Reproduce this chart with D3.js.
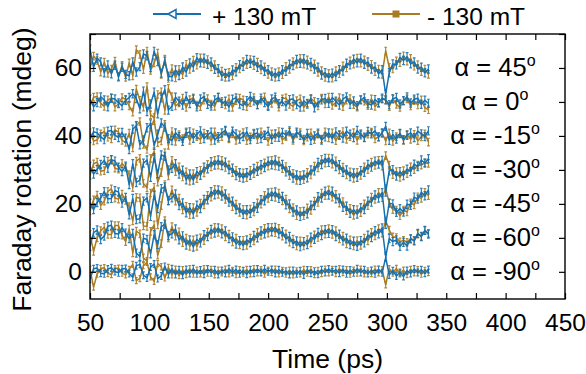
<!DOCTYPE html>
<html>
<head>
<meta charset="utf-8">
<script src="https://cdn.jsdelivr.net/npm/d3@7"></script>
<style>
  body { margin: 0; background: #fff; }
</style>
</head>
<body>
<svg id="chart" width="586" height="374"></svg>
<script>
// time axis of every trace (ps)
const times = [50,53,56,59,62,65,68,71,74,77,80,83,86,89,92,95,98,101,104,107,110,113,116,119,
  122,125,128,131,134,137,140,143,146,149,152,155,158,161,164,167,170,173,176,179,182,185,188,191,
  194,197,200,203,206,209,212,215,218,221,224,227,230,233,236,239,242,245,248,251,254,257,260,263,
  266,269,272,275,278,281,284,287,290,293,296,299,302,305,308,311,314,317,320,323,326,329,332,335];

// vertical shift of each trace (mdeg) and its label
const offsets = [60, 50, 40, 30, 20, 10, 0];
const angles = ['45', '0', '-15', '-30', '-45', '-60', '-90'];
const errPlus = [1.2, 1.2, 1.2, 1.2, 1.2, 1.2, 1.0];
const errMinus = [1.1, 1.1, 1.1, 1.1, 1.1, 1.1, 0.9];

const xTickValues = [50, 75, 100, 125, 150, 175, 200, 225, 250, 275, 300, 325, 350, 375, 400, 425, 450];
const xTickLabels = [50, 100, 150, 200, 250, 300, 350, 400, 450];
const yTickValues = [0, 10, 20, 30, 40, 50, 60, 70];
const yTickLabels = [0, 20, 40, 60];

// Faraday rotation relative to the trace offset, + 130 mT
const plus45 = [5.5,0.2,2.9,1.8,-1.4,0.9,-1.7,0.8,-2.6,0.2,-1.9,-2.3,
  1.8,-1.2,0.4,4.1,3.6,0.1,4.9,1.9,-1.5,2.0,-2.4,
  -2.6,-0.6,-2.2,0.3,-1.2,1.5,0.3,3.0,
  1.5,2.9,1.1,1.8,-0.4,-0.2,-2.4,-1.6,-2.6,-0.6,-1.1,1.0,
  0.5,2.5,1.4,2.2,0.2,0.9,-1.0,-0.5,-2.4,-1.5,-2.5,-0.5,
  -1.0,1.1,0.7,2.5,1.4,2.7,0.9,1.6,-0.3,0.2,-2.1,-1.4,
  -2.9,-1.5,-2.5,-0.5,-0.9,1.4,0.9,2.6,1.5,2.9,1.1,1.8,
  -0.3,0.3,-1.7,-0.5,-7.7,-1.4,1.2,0.9,3.1,2.2,3.3,1.2,1.8,-0.3,0.2,-1.4,-0.3];
const plus0 = [0.8,-1.4,-0.2,1.5,0.6,-1.4,1.1,0.9,-0.3,-1.1,0.5,1.3,
  2.4,1.0,-2.0,3.2,-2.8,-0.6,2.9,-3.5,1.2,3.6,-2.4,
  -1.3,1.4,0.2,-0.9,1.6,-0.5,0.8,-1.4,
  0.9,1.5,-0.7,-1.2,0.6,1.3,-0.4,0.2,-1.5,0.8,1.2,-0.6,
  -1.1,0.4,1.6,0.3,-0.8,1.1,-0.2,-1.3,0.9,1.4,-0.5,0.1,
  -1.2,0.7,0.9,-0.8,-1.5,0.3,-0.6,0.8,-1.7,-0.2,0.6,1.0,
  -0.4,1.3,0.2,-0.9,0.9,1.5,-0.7,0.3,-1.1,0.6,1.2,-0.5,
  -0.9,0.7,-0.2,1.1,0.6,-0.8,0.9,1.3,-0.6,0.4,1.5,-0.3,0.8,1.1,-0.7,0.5,-0.4];
const plus15 = [-0.8,1.2,0.9,-0.3,-1.1,1.4,1.6,0.2,-0.5,1.0,-0.7,-4.0,
  2.0,3.0,-2.6,-1.2,2.4,3.5,-2.8,0.5,3.8,2.6,-0.8,
  -1.4,0.9,-0.2,-1.6,0.8,1.2,-0.7,0.4,
  1.5,-0.8,0.3,1.1,-1.2,-0.2,0.9,1.6,-0.4,1.4,0.6,-0.9,
  -0.2,1.2,-1.1,0.5,0.9,-0.8,0.2,1.3,-1.0,0.6,-0.4,1.0,
  0.3,1.5,-0.6,1.1,0.2,-1.0,0.7,-1.3,0.0,0.8,-1.2,-0.3,
  0.9,-0.8,1.2,0.2,-0.6,1.4,0.5,-0.5,1.6,0.3,-0.4,1.3,
  0.6,1.5,-0.3,0.9,2.8,-1.3,0.4,-0.9,0.7,-1.1,0.2,0.9,-0.5,1.4,0.6,-0.2,1.5];
const plus30 = [1.0,-1.2,0.1,1.6,2.8,0.5,3.0,2.6,0.8,-0.5,1.1,-4.3,
  1.8,-3.7,-3.0,2.0,2.9,-2.2,3.6,-1.1,4.4,4.0,0.0,
  0.5,1.8,-1.2,-0.1,-2.9,-1.2,-3.0,-0.5,
  -1.6,0.8,0.3,2.4,1.4,2.9,1.3,2.3,0.1,0.5,-1.7,-0.8,
  -2.4,-0.8,-1.6,0.4,-0.4,1.5,0.7,2.6,1.5,2.9,1.1,1.6,
  -0.6,-0.2,-2.4,-1.5,-3.1,-1.5,-2.3,0.0,-0.3,2.2,1.6,3.4,
  2.2,3.2,1.0,1.5,-0.7,0.0,-2.0,-0.9,-2.2,-0.2,-0.7,1.6,
  0.8,2.6,1.7,2.8,-6.5,-0.3,0.1,-1.8,-0.5,-1.7,0.2,-0.5,1.7,1.0,2.9,2.0,3.3];
const plus45n = [0.2,-1.7,0.4,1.8,3.6,1.5,1.6,3.9,3.5,0.2,1.9,-3.2,
  1.6,-4.6,-4.4,0.8,1.8,-3.7,2.5,-1.4,4.5,5.0,1.0,
  1.8,2.9,-0.5,0.3,-2.6,-1.1,-3.0,-0.4,
  -1.4,1.3,1.2,3.6,2.7,4.1,2.3,2.9,0.5,0.8,-1.7,-1.2,
  -3.1,-1.7,-2.8,-0.8,-1.3,1.2,0.9,3.2,2.2,3.5,1.6,2.2,
  -0.3,0.0,-2.4,-1.8,-3.7,-2.2,-2.9,-0.4,-0.5,2.1,1.7,3.7,
  2.6,3.7,1.5,1.7,-1.0,-0.7,-2.8,-1.7,-3.0,-1.1,-1.7,0.8,
  0.5,2.6,1.7,3.3,-6.0,0.2,0.0,-2.5,-1.4,-2.4,-0.1,-0.4,2.0,1.4,3.4,2.4,4.1];
const plus60 = [-2.5,1.5,2.3,-0.5,0.5,3.4,3.7,1.3,1.1,3.0,1.4,-0.2,
  1.3,-4.5,-5.5,-0.1,-0.5,-4.7,0.9,-2.0,3.3,4.0,0.7,
  1.2,2.6,-0.6,0.6,-2.1,-0.6,-2.7,-0.4,
  -1.5,0.9,0.4,2.5,1.4,2.9,1.2,2.0,-0.2,0.3,-1.8,-0.8,
  -2.3,-0.6,-1.4,0.7,0.0,2.0,1.2,3.0,1.8,3.1,1.2,1.8,
  -0.3,0.4,-1.7,-0.9,-2.6,-1.1,-2.0,0.2,-0.4,1.6,0.7,2.4,
  1.3,2.4,0.4,1.1,-0.9,-0.1,-2.0,-1.0,-2.5,-0.8,-1.5,0.8,
  0.1,2.1,1.2,2.9,-5.5,-0.2,-1.1,-0.6,-2.5,-1.3,-2.4,-0.3,-0.9,1.3,0.4,2.2,1.1];
const plus90 = [-2.2,0.9,1.1,-0.4,-0.6,0.8,1.2,0.1,-0.3,0.9,1.0,-0.5,
  -1.6,1.8,2.2,-1.0,-1.8,1.4,2.3,-2.0,-1.2,1.6,-0.8,
  0.9,-0.8,0.6,-1.0,0.7,-0.5,0.9,-0.6,
  0.5,-0.7,0.8,-0.3,0.6,-0.8,0.4,-0.5,0.9,-0.2,0.7,-0.6,
  0.3,-0.7,0.6,-0.4,0.8,-0.2,0.9,0.0,0.7,-0.5,0.6,-0.3,
  0.2,-0.8,0.4,-0.6,0.3,-0.9,0.5,-0.4,0.2,-0.7,0.6,-0.2,
  0.8,0.0,0.6,-0.4,0.7,-0.6,0.5,-0.3,0.9,-0.2,0.6,-0.5,
  0.4,-0.6,0.7,-0.3,4.2,-0.9,0.3,-1.2,-0.2,-1.4,0.4,-0.5,0.8,-0.2,0.6,-0.4,0.7];

// Faraday rotation relative to the trace offset, - 130 mT
const minus45 = [0.0,3.5,2.2,-1.2,1.7,-1.6,-0.3,2.0,-2.5,0.8,-2.8,1.5,
  -2.3,5.4,4.0,-0.5,5.0,-0.7,1.5,4.4,-1.9,2.6,-3.1,
  -0.2,-2.9,-0.4,-2.0,1.1,-0.4,2.3,0.8,
  3.0,1.3,2.5,0.3,1.0,-1.4,-0.9,-2.8,-1.3,-2.3,0.2,-0.3,
  1.9,1.0,2.5,0.7,1.7,-0.6,0.3,-1.9,-1.1,-2.8,-1.1,-2.0,
  0.5,-0.4,1.9,1.1,2.8,1.1,2.4,0.3,1.2,-1.3,-0.8,-2.8,
  -1.6,-3.0,-0.8,-1.7,0.6,0.0,2.1,1.1,2.9,1.4,2.4,0.4,
  1.1,-1.1,-0.3,-1.9,5.0,0.2,-0.3,2.1,1.6,3.6,2.0,2.8,0.5,1.0,-1.1,-0.3,-1.9];
const minus0 = [-1.0,1.4,1.6,-0.4,-1.3,0.6,1.1,-1.5,-0.6,1.3,0.8,-1.2,
  -3.0,3.8,0.5,-1.5,4.5,-3.8,-4.6,2.2,3.0,-2.5,4.0,
  1.6,-1.2,-0.3,1.1,-1.6,0.7,1.2,-0.9,
  -1.4,0.5,1.0,-0.6,-1.3,1.4,0.2,-0.9,0.9,-1.6,0.4,1.1,
  0.6,-1.4,-0.2,1.3,-0.9,0.5,1.5,-1.1,-0.4,0.8,-1.5,0.9,
  1.2,-0.7,-1.3,0.4,0.9,-1.6,-0.3,1.0,0.2,-1.2,1.1,-0.6,
  1.4,-1.0,-0.2,1.3,-1.4,0.5,1.0,-0.8,-1.5,0.7,0.2,-1.1,
  0.9,-1.3,-0.4,0.8,0.6,-1.4,1.0,-0.7,-1.6,0.3,0.9,-1.2,0.4,-0.9,0.6,-1.7,-2.3];
const minus15 = [1.0,-1.5,-1.2,0.6,1.3,-0.4,-0.9,1.8,1.1,-1.3,-1.9,0.8,
  -3.5,3.0,4.2,-2.5,-4.0,2.6,4.5,-2.0,-1.5,3.4,-2.8,
  1.3,-1.6,0.4,-0.8,1.2,-1.3,0.9,-0.2,
  -1.1,0.8,0.5,-1.5,1.2,-0.7,-0.2,1.4,-0.9,0.6,-1.3,0.3,
  1.0,-1.4,-0.3,0.8,-1.1,1.2,0.1,-1.6,0.6,-0.5,1.3,-1.2,
  -0.2,1.1,-1.3,0.6,1.0,-1.5,-0.4,0.9,-1.1,0.5,-0.9,1.2,
  -0.6,0.9,-1.4,0.4,1.3,-1.0,-0.2,1.0,-1.3,0.7,-0.6,0.5,
  1.1,-0.9,-0.3,0.8,-1.5,0.9,-1.6,-0.2,0.7,-1.3,0.4,-1.0,0.5,-1.4,-0.3,0.6,-1.8];
const minus30 = [-1.6,1.8,2.3,-0.4,-0.2,2.6,3.1,0.5,0.2,1.9,0.7,-1.4,
  -5.2,2.6,3.4,-4.0,-5.3,3.4,5.4,-3.6,-0.8,5.1,-1.8,
  2.8,-0.5,0.9,-2.1,-0.6,-3.3,-1.1,-2.6,
  -0.1,-0.9,1.6,0.9,2.8,1.4,2.8,0.7,1.5,-0.8,-0.1,-2.3,
  -0.9,-2.3,-0.1,-1.1,1.1,0.0,2.1,1.1,2.8,1.2,2.6,0.4,
  1.0,-1.7,-1.0,-3.1,-1.6,-2.9,-0.7,-1.5,1.1,0.6,3.1,2.0,
  3.5,1.7,2.7,0.0,0.8,-1.5,-0.6,-2.5,-0.7,-1.6,0.9,0.1,
  2.3,1.3,2.8,1.1,4.2,1.4,-1.4,-0.5,-2.2,-0.2,-1.1,0.9,0.1,1.4,1.4,2.1,1.9];
const minus45n = [-2.1,1.2,2.6,-0.5,0.8,3.7,4.4,1.7,1.4,2.9,1.0,-0.8,
  -5.0,1.9,1.8,-6.5,-6.6,3.2,4.9,-6.2,-0.5,5.7,0.9,
  4.1,0.8,1.7,-1.8,-0.7,-3.2,-1.1,-2.5,
  0.2,-0.3,2.5,2.0,4.3,2.8,3.9,1.3,1.8,-0.8,-0.1,-2.5,
  -1.6,-3.3,-1.5,-2.4,0.3,-0.1,2.5,1.6,3.5,1.9,3.2,0.9,
  1.4,-1.5,-1.1,-3.5,-2.2,-3.5,-1.2,-1.9,0.8,0.4,3.2,2.4,
  4.1,2.0,2.8,0.2,0.7,-2.0,-1.3,-3.4,-1.7,-2.6,0.0,-0.5,
  2.0,1.3,3.4,1.8,4.5,0.3,-1.7,-1.8,-3.5,-1.8,-2.4,0.3,-0.3,2.1,1.6,3.4,2.4];
const minus60 = [1.0,-4.0,0.0,2.1,3.1,1.0,1.0,3.6,3.6,0.8,-1.1,2.6,
  -4.4,2.0,1.2,-5.9,-6.9,1.9,3.8,-5.1,-1.7,5.1,0.0,
  3.3,0.5,1.8,-1.4,-0.1,-2.5,-0.6,-2.5,
  0.0,-0.8,1.7,1.0,3.1,1.6,2.7,0.3,1.1,-1.2,-0.1,-2.1,
  -0.7,-2.2,-0.1,-0.9,1.6,0.7,2.8,1.4,3.1,1.5,2.8,0.5,
  1.2,-1.3,-0.4,-2.4,-0.9,-2.4,-0.5,-1.5,0.9,0.1,2.4,1.1,
  2.7,1.0,2.1,-0.3,0.5,-1.8,-0.6,-2.4,-0.8,-2.2,-0.1,-0.9,
  1.6,0.6,2.7,1.4,5.0,2.3,0.3,0.1,-1.2,-0.7,-1.3,-0.2,-0.8,1.1,0.4,2.1,1.3];
const minus90 = [0.8,-4.5,-0.7,1.0,1.2,-0.5,-0.8,0.9,1.1,-0.4,-0.9,0.7,
  2.2,-2.6,-2.0,1.8,2.8,-1.5,-2.8,2.4,1.5,-1.8,1.3,
  -0.9,0.8,-1.1,0.6,-0.8,0.9,-0.7,0.5,
  -0.6,0.9,-0.4,0.7,-0.9,0.5,-0.3,0.8,-0.6,0.4,-0.8,0.6,
  -0.4,0.7,-0.6,0.9,-0.3,0.6,-0.7,0.5,-0.2,0.8,-0.6,0.4,
  -0.7,0.5,-0.9,0.3,-0.6,0.7,-0.4,0.6,-0.8,0.4,-0.5,0.8,
  -0.3,0.7,-0.5,0.9,-0.2,0.6,-0.7,0.5,-0.4,0.8,-0.6,0.3,
  -0.5,0.8,-0.3,0.6,-3.8,0.9,-0.4,1.0,-0.6,0.5,-0.8,0.7,-0.3,0.6,-0.7,0.4,-0.2];

const plusSeries = [plus45, plus0, plus15, plus30, plus45n, plus60, plus90];
const minusSeries = [minus45, minus0, minus15, minus30, minus45n, minus60, minus90];

const blue = '#1470b0';
const gold = '#a97b22';
const textFont = '"Liberation Sans", Arial, sans-serif';

const svg = d3.select('#chart');
const margin = { top: 34, right: 21, bottom: 75, left: 90 };
const width = +svg.attr('width');
const height = +svg.attr('height');

const x = d3.scaleLinear().domain([50, 450]).range([margin.left, width - margin.right]);
const y = d3.scaleLinear().domain([-8, 70]).range([height - margin.bottom, margin.top]);

svg.append('defs').append('clipPath').attr('id', 'plot-clip')
  .append('rect')
    .attr('x', x(50)).attr('y', y(70))
    .attr('width', x(450) - x(50)).attr('height', y(-8) - y(70));

const plot = svg.append('g').attr('clip-path', 'url(#plot-clip)');

const line = d3.line().x(d => x(d.t)).y(d => y(d.v));

function drawSeries(devs, offset, err, color) {
  const pts = times.map((t, i) => ({ t, v: offset + devs[i] }));
  const g = plot.append('g');
  // error bars with small caps
  const bars = pts.map(d => {
    const px = x(d.t), y0 = y(d.v - err), y1 = y(d.v + err);
    return `M${px},${y0}V${y1}M${px - 1.4},${y0}H${px + 1.4}M${px - 1.4},${y1}H${px + 1.4}`;
  }).join('');
  g.append('path').attr('d', bars)
    .attr('stroke', color).attr('stroke-width', 1.2).attr('fill', 'none').attr('opacity', 0.9);
  g.append('path').datum(pts).attr('d', line)
    .attr('stroke', color).attr('stroke-width', 1.5).attr('fill', 'none')
    .attr('stroke-linejoin', 'round');
}

minusSeries.forEach((s, i) => drawSeries(s, offsets[i], errMinus[i], gold));
plusSeries.forEach((s, i) => drawSeries(s, offsets[i], errPlus[i], blue));

// axes with inward ticks
const tickFont = 24.5;
svg.append('g')
  .attr('transform', `translate(0,${y(-8)})`)
  .call(d3.axisBottom(x).tickValues(xTickValues).tickSize(-6).tickSizeOuter(0).tickPadding(14.5)
    .tickFormat(d => xTickLabels.includes(d) ? d : ''));
svg.append('g')
  .attr('transform', `translate(0,${y(70)})`)
  .call(d3.axisTop(x).tickValues(xTickValues).tickSize(-6).tickSizeOuter(0).tickFormat(''));
svg.append('g')
  .attr('transform', `translate(${x(50)},0)`)
  .call(d3.axisLeft(y).tickValues(yTickValues).tickSize(-6).tickSizeOuter(0).tickPadding(8)
    .tickFormat(d => yTickLabels.includes(d) ? d : ''));
svg.append('g')
  .attr('transform', `translate(${x(450)},0)`)
  .call(d3.axisRight(y).tickValues(yTickValues).tickSize(-6).tickSizeOuter(0).tickFormat(''));

svg.selectAll('.domain').remove();
svg.selectAll('.tick line').attr('stroke', '#000').attr('stroke-width', 1.2);
svg.selectAll('.tick text').attr('font-size', tickFont);

svg.append('rect')
  .attr('x', x(50)).attr('y', y(70))
  .attr('width', x(450) - x(50)).attr('height', y(-8) - y(70))
  .attr('fill', 'none').attr('stroke', '#000').attr('stroke-width', 1.4);

// trace labels
angles.forEach((a, i) => {
  const t = svg.append('text')
    .attr('x', 495).attr('y', y(offsets[i]) + 8)
    .attr('text-anchor', 'middle').attr('font-size', 25.5);
  t.append('tspan').text(`\u03b1 = ${a}`);
  t.append('tspan').text('o').attr('font-size', 16).attr('dy', -10);
});

// axis titles
svg.append('text')
  .attr('x', (x(50) + x(450)) / 2).attr('y', 368)
  .attr('text-anchor', 'middle').attr('font-size', 26.5)
  .text('Time (ps)');
svg.append('text')
  .attr('transform', `translate(31,${(y(70) + y(-8)) / 2 + 3}) rotate(-90)`)
  .attr('text-anchor', 'middle').attr('font-size', 26.5)
  .text('Faraday rotation (mdeg)');

// legend
const legend = svg.append('g');
legend.append('line').attr('x1', 153).attr('x2', 201).attr('y1', 14).attr('y2', 14)
  .attr('stroke', blue).attr('stroke-width', 2.2);
legend.append('path').attr('d', 'M168,14L176,9.5V18.5Z')
  .attr('fill', '#fff').attr('stroke', blue).attr('stroke-width', 1.5);
legend.append('text').attr('x', 212).attr('y', 25).attr('font-size', tickFont).text('+ 130 mT');
legend.append('line').attr('x1', 372).attr('x2', 420).attr('y1', 14).attr('y2', 14)
  .attr('stroke', gold).attr('stroke-width', 2.2);
legend.append('rect').attr('x', 392.5).attr('y', 10.5).attr('width', 7).attr('height', 7)
  .attr('fill', gold);
legend.append('text').attr('x', 427).attr('y', 25).attr('font-size', tickFont).text('- 130 mT');

svg.selectAll('g').attr('font-family', null);
svg.selectAll('text').style('font-family', textFont).attr('fill', '#000');
</script>
</body>
</html>
